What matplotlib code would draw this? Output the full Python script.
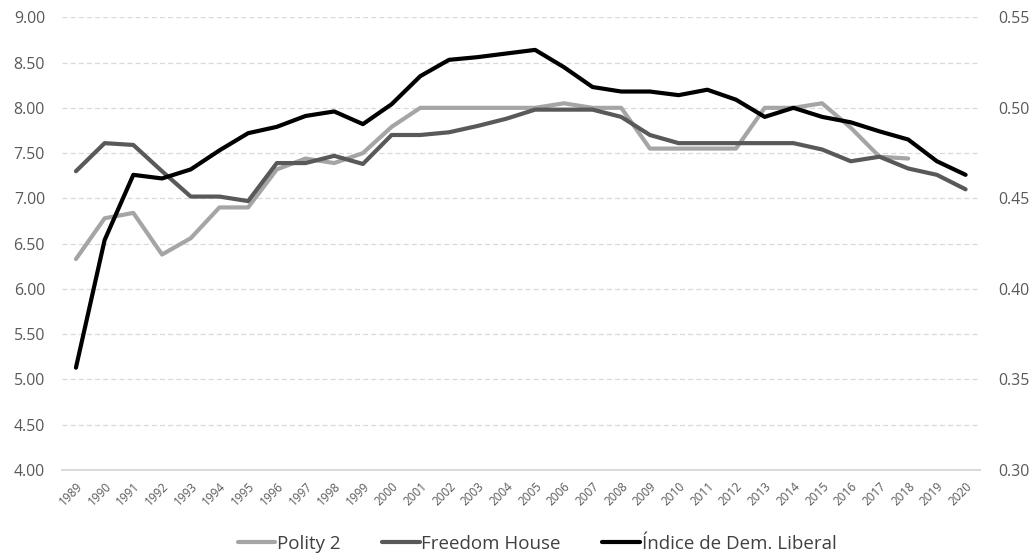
import matplotlib
matplotlib.use("Agg")
import matplotlib.pyplot as plt
import numpy as np

# ----------------------------
# 資料
# ----------------------------
years = list(range(1989, 2021))

polity2 = [6.33, 6.78, 6.84, 6.38, 6.56, 6.90, 6.90, 7.32, 7.44, 7.39,
           7.50, 7.79, 8.00, 8.00, 8.00, 8.00, 8.00, 8.05, 8.00, 8.00,
           7.55, 7.55, 7.55, 7.55, 8.00, 8.00, 8.05, 7.78, 7.46, 7.44,
           np.nan, np.nan]

freedom_house = [7.30, 7.61, 7.59, 7.30, 7.02, 7.02, 6.97, 7.39, 7.39, 7.47,
                 7.38, 7.70, 7.70, 7.73, 7.80, 7.88, 7.98, 7.98, 7.98, 7.90,
                 7.70, 7.61, 7.61, 7.61, 7.61, 7.61, 7.54, 7.41, 7.46, 7.33,
                 7.26, 7.10]

dem_liberal = [0.3565, 0.427, 0.463, 0.461, 0.466, 0.4765, 0.486, 0.4895, 0.4955, 0.498,
               0.491, 0.502, 0.5175, 0.5265, 0.528, 0.530, 0.532, 0.5225, 0.5115, 0.509,
               0.509, 0.507, 0.510, 0.5045, 0.495, 0.500, 0.495, 0.492, 0.487, 0.4825,
               0.4705, 0.463]

left_ticks = [4.0, 4.5, 5.0, 5.5, 6.0, 6.5, 7.0, 7.5, 8.0, 8.5, 9.0]
right_ticks = [0.30, 0.35, 0.40, 0.45, 0.50, 0.55]

# ----------------------------
# 繪圖
# ----------------------------
plt.rcParams["font.family"] = ["Open Sans", "DejaVu Sans"]

fig = plt.figure(figsize=(10.35, 5.54), dpi=100)
ax = fig.add_axes([0.0595, 0.1516, 0.8873, 0.8172])
ax2 = ax.twinx()

x = np.arange(len(years))
lw = 3.0
l1, = ax.plot(x, polity2, color="#a5a5a5", lw=lw, label="Polity 2", solid_capstyle="round")
l2, = ax.plot(x, freedom_house, color="#595959", lw=lw, label="Freedom House", solid_capstyle="round")
l3, = ax2.plot(x, dem_liberal, color="#000000", lw=lw, label="Índice de Dem. Liberal", solid_capstyle="round")

ax.set_xlim(-0.5, len(years) - 0.5)
ax.set_ylim(4, 9)
ax2.set_ylim(0.30, 0.55)

ax.set_yticks(left_ticks)
ax.set_yticklabels([f"{v:.2f}" for v in left_ticks])
ax2.set_yticks(right_ticks)
ax2.set_yticklabels([f"{v:.2f}" for v in right_ticks])

ax.set_xticks(x)
ax.set_xticklabels([str(y) for y in years], rotation=45, ha="right",
                   rotation_mode="anchor", fontsize=8.5, color="#595959")

ax.grid(axis="y", color="#d9d9d9", ls=(0, (4, 2.5)), lw=0.9)
ax.set_axisbelow(True)
for a in (ax, ax2):
    for s in a.spines.values():
        s.set_visible(False)
    a.tick_params(length=0)
ax.spines["bottom"].set_visible(True)
ax.spines["bottom"].set_color("#d9d9d9")
ax.spines["bottom"].set_linewidth(1.4)

ax.tick_params(axis="y", labelsize=11.4, labelcolor="#595959", pad=12)
ax2.tick_params(axis="y", labelsize=11.4, labelcolor="#595959", pad=13.5)
ax.tick_params(axis="x", pad=7)

fig.legend(handles=[l1, l2, l3], loc="center", bbox_to_anchor=(0.519, 0.018),
           ncol=3, frameon=False, fontsize=13.5, handlelength=2.0,
           handletextpad=0.1, columnspacing=2.2, labelcolor="#404040",
           borderpad=0)

fig.savefig("out.png", dpi=100)
